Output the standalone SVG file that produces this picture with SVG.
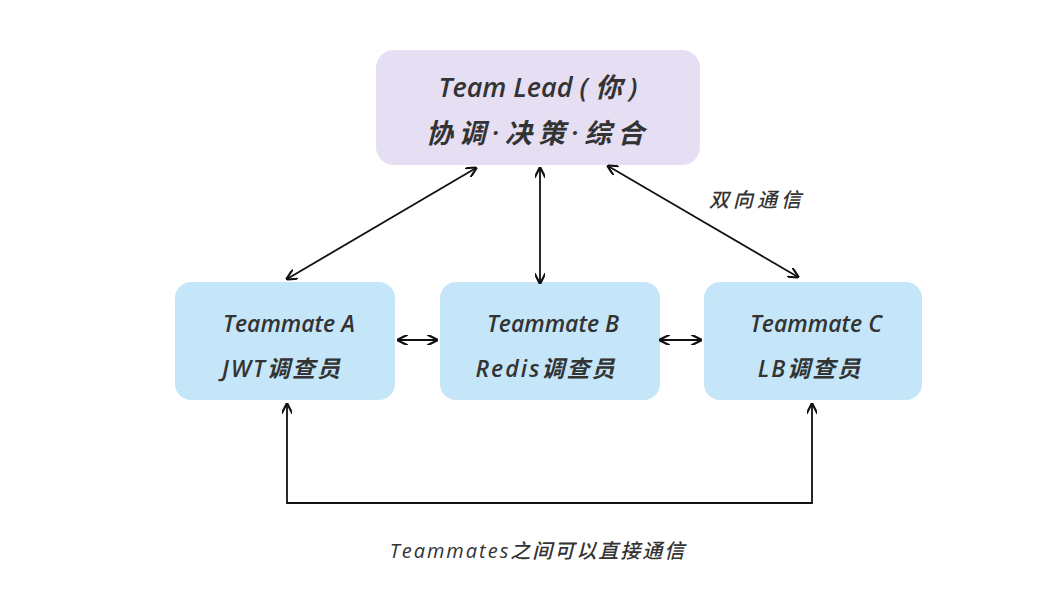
<svg xmlns="http://www.w3.org/2000/svg" width="1040" height="590" viewBox="0 0 1040 590">
<style>
text{font-family:"Open Sans","Noto Sans CJK SC",sans-serif;font-style:italic;font-weight:600;fill:#333;text-anchor:middle}
.t{font-size:27px}
.m{font-size:23px}
.l{font-size:20px;font-weight:500}
.c{fill:none;stroke:#111;stroke-width:1.8}
</style>
<defs>
<marker id="a" viewBox="0 0 10 10" refX="9" refY="5" markerWidth="6" markerHeight="6" orient="auto-start-reverse"><path d="M0,0 L10,5 L0,10" fill="none" stroke="#111" stroke-width="2"/></marker>
</defs>
<rect width="1040" height="590" fill="#fff"/>
<g id="lead"><rect x="376" y="50" width="324" height="115" rx="18" fill="#e6def3"/>
<text class="t" x="538" y="97">Team Lead ( 你 )</text>
<text class="t" x="538" y="143" letter-spacing="6">协调·决策·综合</text></g>
<g id="a1"><rect x="175" y="282" width="220" height="118" rx="16" fill="#c5e6f8"/>
<text class="m" x="289" y="332">Teammate A</text><text class="m" x="282" y="377" letter-spacing="2">JWT调查员</text></g>
<g id="b1"><rect x="440" y="282" width="220" height="118" rx="16" fill="#c5e6f8"/>
<text class="m" x="553" y="332">Teammate B</text><text class="m" x="546" y="377" letter-spacing="2">Redis调查员</text></g>
<g id="c1"><rect x="704" y="282" width="218" height="118" rx="16" fill="#c5e6f8"/>
<text class="m" x="816" y="332">Teammate C</text><text class="m" x="810" y="377" letter-spacing="2">LB调查员</text></g>
<g id="connectors">
<line class="c" x1="287" y1="279" x2="476" y2="168" marker-start="url(#a)" marker-end="url(#a)"/>
<line class="c" x1="540" y1="168" x2="540" y2="283" marker-start="url(#a)" marker-end="url(#a)"/>
<line class="c" x1="608" y1="166" x2="798" y2="277" marker-start="url(#a)" marker-end="url(#a)"/>
<line class="c" x1="398" y1="340" x2="437" y2="340" marker-start="url(#a)" marker-end="url(#a)"/>
<line class="c" x1="660" y1="340" x2="701" y2="340" marker-start="url(#a)" marker-end="url(#a)"/>
<polyline class="c" points="287,404 287,503 812,503 812,404" marker-start="url(#a)" marker-end="url(#a)"/>
</g>
<text class="l" x="757" y="207" letter-spacing="4">双向通信</text>
<text class="l" x="538" y="558" letter-spacing="2">Teammates之间可以直接通信</text>
</svg>
